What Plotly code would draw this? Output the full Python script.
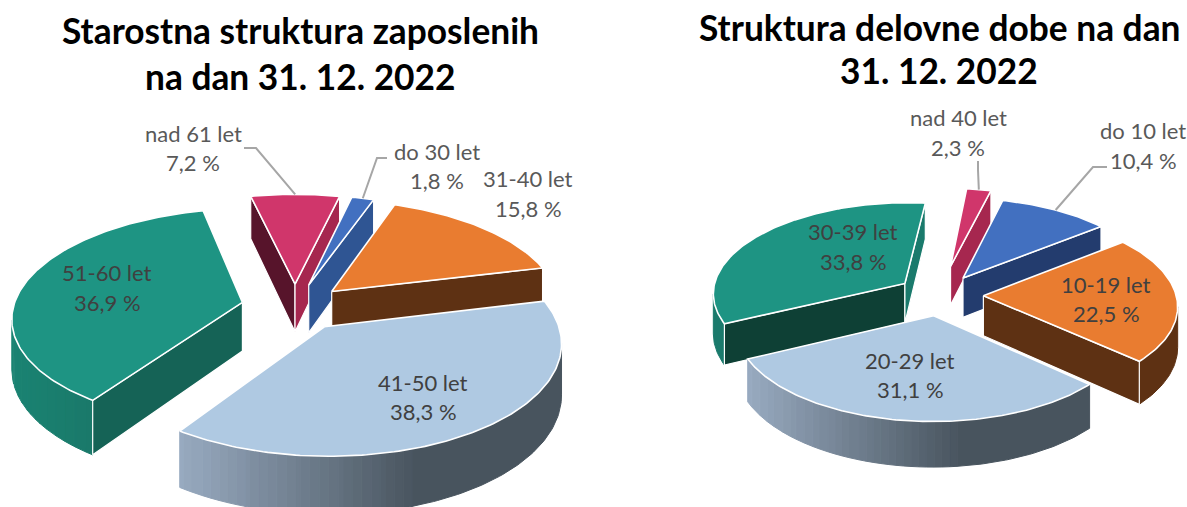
import math
import plotly.graph_objects as go

# ---- data ----
left_categories = ["do 30 let", "31-40 let", "41-50 let", "51-60 let", "nad 61 let"]
left_values = [1.8, 15.8, 38.3, 36.9, 7.2]
right_categories = ["do 10 let", "10-19 let", "20-29 let", "30-39 let", "nad 40 let"]
right_values = [10.4, 22.5, 31.1, 33.8, 2.3]
left_title = ["Starostna struktura zaposlenih", "na dan 31. 12. 2022"]
right_title = ["Struktura delovne dobe na dan", "31. 12. 2022"]

# ---- slice styles: top, start face, end face, arc light, arc dark ----
BLUE = ("#4270c0", "#2f5593", "#2f5593", "#2f5593", "#2f5593")
BLUE_R = ("#4270c0", "#233c6e", "#233c6e", "#233c6e", "#233c6e")
ORANGE = ("#e97c30", "#5e3113", "#5e3113", "#5e3113", "#5e3113")
SKY = ("#afc9e2", "#8fa2b8", "#48545e", "#98aac0", "#48545e")
TEAL = ("#1e9483", "#156356", "#1a7a6c", "#1a8372", "#1a7466")
TEAL_R = ("#1e9483", "#0e4035", "#1a7a6c", "#1a7a6c", "#1a7a6c")
PINK = ("#d0366b", "#57142b", "#a6274f", "#a6274f", "#a6274f")
ARC_SHADES = 28

fig = go.Figure()


def mix(a, b, t):
    ca = [int(a[i:i + 2], 16) for i in (1, 3, 5)]
    cb = [int(b[i:i + 2], 16) for i in (1, 3, 5)]
    return "#" + "".join(f"{round(x + (y - x) * t):02x}" for x, y in zip(ca, cb))


def poly(pts, fill, line, width):
    fig.add_trace(go.Scatter(
        x=[p[0] for p in pts] + [pts[0][0]], y=[p[1] for p in pts] + [pts[0][1]],
        mode="lines", fill="toself", fillcolor=fill,
        line=dict(color=line, width=width), hoverinfo="skip", showlegend=False))


def draw_pie(values, styles, explode, start, cx, cy, ry, k, persp, depth):
    """Returns each slice's outer mid point, for the leader lines."""
    total = sum(values)
    slices = []
    a = start
    for i, v in enumerate(values):
        b = a + 360 * v / total
        slices.append((i, a, b))
        a = b

    def proj(u, v, z=0.0):
        s = 1 / (1 - persp * v)
        return (cx + ry * k * u * s, cy + ry * v * s + depth * z * s)

    def pt(theta, r, mid, e, z=0.0):
        t, m = math.radians(theta), math.radians(mid)
        return proj(r * math.sin(t) + e * math.sin(m),
                    -r * math.cos(t) - e * math.cos(m), z)

    def visible(p, q, c):
        dx = q[0] - p[0]
        if abs(dx) < 1e-6:
            return False
        return c[1] < p[1] + (q[1] - p[1]) * (c[0] - p[0]) / dx

    mids = {}
    jobs = []
    for i, a, b in slices:
        mid = (a + b) / 2
        e = explode[i]
        n = max(4, int(b - a))
        thetas = [a + (b - a) * j / n for j in range(n + 1)]
        rim = [pt(t, 1, mid, e) for t in thetas]
        apex = pt(0, 0, mid, e)
        top = [apex] + rim
        c = (sum(p[0] for p in top) / len(top), sum(p[1] for p in top) / len(top))
        jobs.append((c[1], i, a, b, mid, e, thetas, rim, apex, top, c))
        mids[i] = pt(mid, 1, mid, e)

    for _, i, a, b, mid, e, thetas, rim, apex, top, c in sorted(jobs, key=lambda j: j[0]):
        st = styles[i]
        # arc wall in bands of one shade each, so the lighting can run across it
        xs = [p[0] for p in rim]
        xmin, xmax = min(xs), max(xs)
        bands = []
        for j in range(len(thetas) - 1):
            p, q = rim[j], rim[j + 1]
            if visible(p, q, c):
                t = min(1, ((p[0] + q[0]) / 2 - xmin) / max(1, xmax - xmin) / 0.62)
                col = mix(st[3], st[4], round(t * ARC_SHADES) / ARC_SHADES)
                if bands and bands[-1][0] == col and bands[-1][1][-1] == j:
                    bands[-1][1].append(j + 1)
                else:
                    bands.append((col, [j, j + 1]))
        for col, idx in bands:
            upper = [rim[j] for j in idx]
            lower = [pt(thetas[j], 1, mid, e, 1) for j in reversed(idx)]
            poly(upper + lower, col, col, 1)
        # cut faces
        for theta, col, edge in ((a, st[1], rim[0]), (b, st[2], rim[-1])):
            if visible(apex, edge, c):
                poly([apex, edge, pt(theta, 1, mid, e, 1), pt(0, 0, mid, e, 1)], col, "#ffffff", 1.2)
        poly(top, st[0], "#ffffff", 1.6)
    return mids


left_mid = draw_pie(left_values, [BLUE, ORANGE, SKY, TEAL, PINK], [0.22, 0.22, 0.22, 0.235, 0.22],
                    13.0, 295, 307, 107, 2.14, 0.13, 49)
right_mid = draw_pie(right_values, [BLUE_R, ORANGE, SKY, TEAL_R, PINK], [0.225, 0.225, 0.225, 0.225, 0.33],
                     14.0, 940, 295, 90.9, 2.12, 0.0995, 40)

# ---- leader lines: label end, elbow, then the slice's rim ----
LEADER = "#a6a6a6"
leaders = [
    ((244, 148), (256, 148), left_mid[4]),
    ((387, 158), (377, 158), left_mid[0]),
    ((978, 161), (978, 170), right_mid[4]),
    ((1107, 167), (1093, 167), right_mid[0]),
]
shapes = []
for p0, p1, p2 in leaders:
    shapes.append(dict(type="path", xref="x", yref="y",
                       path=f"M{p0[0]},{p0[1]} L{p1[0]},{p1[1]} L{p2[0]},{p2[1]}",
                       line=dict(color=LEADER, width=2)))

# ---- text ----
LABEL_FONT = "Lato"
annotations = []


def text(x, y, s, size, color, bold=False):
    annotations.append(dict(x=x, y=y, xref="x", yref="y", text=f"<b>{s}</b>" if bold else s,
                            showarrow=False, xanchor="center", yanchor="middle",
                            font=dict(family=LABEL_FONT, size=size, color=color)))


def pct(v):
    return f"{v:.1f}".replace(".", ",") + " %"


label_pos_left = [(437, 151, 180, "#595959"), (528, 178, 208, "#595959"), (423, 382, 411, "#404040"),
                  (107, 272, 302, "#404040"), (193, 133, 162, "#595959")]
label_pos_right = [(1143, 130, 160, "#595959"), (1106, 284, 313, "#404040"), (910, 360, 389, "#404040"),
                   (853, 231, 261, "#404040"), (958, 117, 147, "#595959")]
for cats, vals, pos in ((left_categories, left_values, label_pos_left),
                        (right_categories, right_values, label_pos_right)):
    for c, v, (x, y1, y2, col) in zip(cats, vals, pos):
        text(x, y1, c, 22, col)
        text(x, y2, pct(v), 22, col)

text(300, 30, left_title[0], 35.3, "#000000", True)
text(300, 76, left_title[1], 35.3, "#000000", True)
text(939, 27, right_title[0], 35.3, "#000000", True)
text(939, 70, right_title[1], 35.3, "#000000", True)

fig.update_layout(
    width=1187, height=507, margin=dict(l=0, r=0, t=0, b=0),
    paper_bgcolor="#ffffff", plot_bgcolor="#ffffff", showlegend=False,
    xaxis=dict(range=[0, 1187], visible=False, fixedrange=True),
    yaxis=dict(range=[507, 0], visible=False, fixedrange=True),
    shapes=shapes, annotations=annotations,
)
fig.write_html("out.html", config={"displayModeBar": False},
               post_script="document.body.style.margin='0';")
